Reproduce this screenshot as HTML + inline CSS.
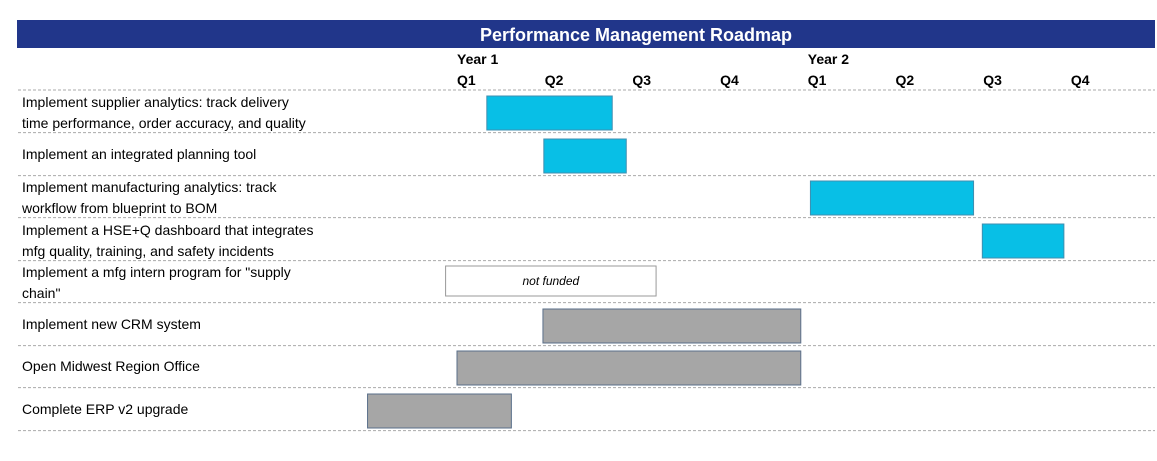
<!DOCTYPE html>
<html><head><meta charset="utf-8"><style>
body{margin:0;background:#fff;width:1157px;height:456px;overflow:hidden;font-family:"Liberation Sans",Arial,sans-serif;}
svg text{font-family:"Liberation Sans",Arial,sans-serif;}
</style></head><body>
<svg id="chart" width="1157" height="456">
<rect x="17" y="20" width="1138" height="28" fill="#21368A"/>
<text x="636" y="41" text-anchor="middle" fill="#fff" font-size="18" font-weight="bold">Performance Management Roadmap</text>
<g id="hdr"></g><g id="rows"></g>
</svg>
<script>
const tasks=[
["Implement supplier analytics: track delivery","time performance, order accuracy, and quality"],
["Implement an integrated planning tool"],
["Implement manufacturing analytics: track","workflow from blueprint to BOM"],
["Implement a HSE+Q dashboard that integrates","mfg quality, training, and safety incidents"],
["Implement a mfg intern program for \"supply","chain\""],
["Implement new CRM system"],
["Open Midwest Region Office"],
["Complete ERP v2 upgrade"]];
const starts=[0.34,0.99,4.03,5.99,-0.13,0.98,0,-1.02];
const ends=[1.77,1.93,5.89,6.92,2.27,3.92,3.92,0.62];
const kinds=["active","active","active","active","unfunded","legacy","legacy","legacy"];
const quarters=["Q1","Q2","Q3","Q4","Q1","Q2","Q3","Q4"];
const years=["Year 1","Year 2"];
const NS="http://www.w3.org/2000/svg";
const X=v=>457+v*87.7;
const rowTop=[90,133,175,218,260,303,345,388];
const rowH=42.6;
function mk(t,a,p){const e=document.createElementNS(NS,t);for(const k in a)e.setAttribute(k,a[k]);p.appendChild(e);return e;}
const hdr=document.getElementById('hdr'),rows=document.getElementById('rows');
years.forEach((y,i)=>{const t=mk('text',{x:X(i*4),y:64,'font-size':14,'font-weight':'bold',fill:'#000'},hdr);

t.textContent=y;});
quarters.forEach((q,i)=>{const t=mk('text',{x:X(i),y:85,'font-size':14,'font-weight':'bold',fill:'#000'},hdr);

t.textContent=q;});
const l0=mk('line',{x1:18,x2:1155,y1:rowTop[0],y2:rowTop[0],stroke:'#aaa','stroke-dasharray':'3,2'},rows);


tasks.forEach((lines,i)=>{
 const top=rowTop[i];
 const ln=mk('line',{x1:18,x2:1155,y1:top+rowH,y2:top+rowH,stroke:'#aaa','stroke-dasharray':'3,2'},rows);
 
 
 const t=mk('text',{x:22,'font-size':14,fill:'#000'},rows);
 
 
 const y0=lines.length>1?top+17:top+26;
 lines.forEach((s,j)=>{const ts=mk('tspan',{x:22,y:y0+j*21},t);ts.textContent=s;});
 const k=kinds[i];
 const fill=k==='active'?'#08BFE6':k==='legacy'?'#A6A6A6':'#fff';
 const stroke=k==='active'?'#3F8FB0':k==='legacy'?'#5A6F8A':'#999';
 const bt=k==='unfunded'?top+6:top+6, bh=k==='unfunded'?30:34;
 const r=mk('rect',{x:X(starts[i]),y:bt,width:X(ends[i])-X(starts[i]),height:bh,fill:fill,stroke:stroke,'stroke-width':1},rows);
 
 
 if(k==='unfunded'){const n=mk('text',{x:(X(starts[i])+X(ends[i]))/2,y:bt+19,'text-anchor':'middle','font-size':12,'font-style':'italic',fill:'#000'},rows);
 
 n.textContent='not funded';}
});
</script>
</body></html>
